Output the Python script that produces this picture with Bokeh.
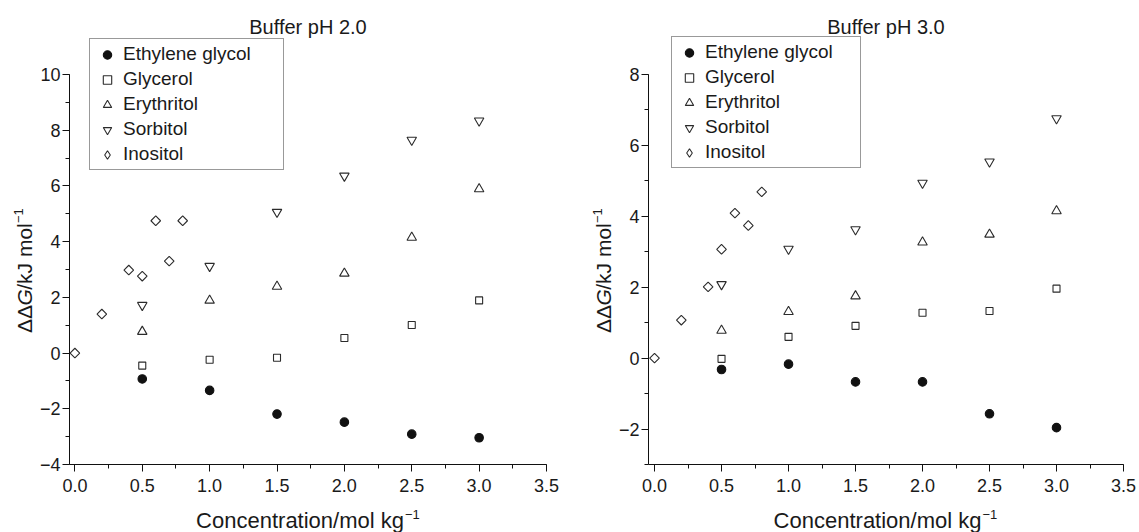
import math

from bokeh.embed import file_html
from bokeh.layouts import column, row
from bokeh.models import (CustomJSTickFormatter, Label, Legend, LegendItem,
                          Range1d, SingleIntervalTicker)
from bokeh.plotting import figure
from bokeh.resources import INLINE

# ---------------------------------------------------------------- data
series_names = ["Ethylene glycol", "Glycerol", "Erythritol", "Sorbitol", "Inositol"]

conc = [0.5, 1.0, 1.5, 2.0, 2.5, 3.0]                   # mol/kg
conc_inositol = [0.0, 0.2, 0.4, 0.5, 0.6, 0.7, 0.8]     # mol/kg

# Buffer pH 2.0, ddG in kJ/mol
ph2_ethylene_glycol = [-0.93, -1.34, -2.19, -2.48, -2.91, -3.04]
ph2_glycerol = [-0.45, -0.24, -0.17, 0.54, 1.01, 1.89]
ph2_erythritol = [0.77, 1.89, 2.39, 2.86, 4.15, 5.89]
ph2_sorbitol = [1.72, 3.12, 5.06, 6.36, 7.65, 8.34]
ph2_inositol = [0.0, 1.40, 2.98, 2.76, 4.75, 3.30, 4.75]

# Buffer pH 3.0, ddG in kJ/mol
ph3_ethylene_glycol = [-0.32, -0.17, -0.67, -0.67, -1.57, -1.96]
ph3_glycerol = [-0.02, 0.60, 0.91, 1.28, 1.33, 1.96]
ph3_erythritol = [0.78, 1.31, 1.75, 3.27, 3.49, 4.15]
ph3_sorbitol = [2.08, 3.08, 3.63, 4.94, 5.54, 6.76]
ph3_inositol = [0.0, 1.07, 2.01, 3.07, 4.09, 3.74, 4.69]

panel_titles = ["Buffer pH 2.0", "Buffer pH 3.0"]
x_label = "Concentration/mol kg"
y_label_parts = ["\u0394\u0394", "G", "/kJ mol"]
superscript = "\u22121"

# ---------------------------------------------------------------- style
FONT = "Liberation Sans"
INK = "#1a1a1a"
MARK = "#2b2b2b"
PAGE_H = 532
MAIN_H = 501                # plot figure height; the x-axis title strip sits below
FRAME_TOP, FRAME_BOTTOM = 5, 464
AXIS_TOP_PX = 74            # pixel row of the top y tick
DROP = 0.3                  # alphabetic labels land this many em below the anchor
MID = 0.35                  # em offset between a 'middle' anchor and the baseline
YLAB_SCALE = 0.932          # drawn height of the narrow title strip per canvas unit
YLAB_BOTTOM = 333           # pixel row where the rotated y title starts

marker_styles = {
    "Ethylene glycol": dict(marker="circle", size=8.5, fill_color="#111111", line_color="#111111", angle=0.0),
    "Glycerol": dict(marker="square", size=7, fill_color=None, line_color=MARK, angle=0.0),
    "Erythritol": dict(marker="triangle", size=9.5, fill_color=None, line_color=MARK, angle=0.0),
    "Sorbitol": dict(marker="inverted_triangle", size=9.5, fill_color=None, line_color=MARK, angle=0.0),
    "Inositol": dict(marker="square", size=6.8, fill_color=None, line_color=MARK, angle=math.pi / 4),
}

panels = [
    dict(title=panel_titles[0], fig_x=0, width=590, ylab_w=36, ylab_base=31,
         frame_left=67, frame_right=546, x0=-0.04, x1=3.5, ymin=-4, ytop=10,
         data=[ph2_ethylene_glycol, ph2_glycerol, ph2_erythritol, ph2_sorbitol, ph2_inositol],
         legend_loc=(20, 294), legend_w=156),
    dict(title=panel_titles[1], fig_x=590, width=549, ylab_w=25, ylab_base=610,
         frame_left=645, frame_right=1123, x0=-0.045, x1=3.5, ymin=-3, ytop=8,
         data=[ph3_ethylene_glycol, ph3_glycerol, ph3_erythritol, ph3_sorbitol, ph3_inositol],
         legend_loc=(23, 296), legend_w=151),
]


def blank_figure(width, height):
    """A bare canvas whose data units are pixels (origin bottom-left)."""
    f = figure(width=width, height=height, output_backend="svg",
               toolbar_location=None, tools="",
               x_range=Range1d(0, width), y_range=Range1d(0, height),
               x_axis_type=None, y_axis_type=None,
               min_border_left=0, min_border_right=0,
               min_border_top=0, min_border_bottom=0)
    f.outline_line_color = None
    f.xgrid.visible = False
    f.ygrid.visible = False
    f.background_fill_color = "white"
    f.border_fill_color = "white"
    return f


def to_data(cfg, px, py):
    """Absolute page pixel -> data coordinates of the plot panel."""
    fx = (px - cfg["frame_left"]) / (cfg["frame_right"] - cfg["frame_left"])
    fy = (py - FRAME_TOP) / (FRAME_BOTTOM - FRAME_TOP)
    return (cfg["x0"] + fx * (cfg["x1"] - cfg["x0"]),
            cfg["y1"] - fy * (cfg["y1"] - cfg["ymin"]))


def build_plot(cfg):
    per_unit = (cfg["ytop"] - cfg["ymin"]) / (FRAME_BOTTOM - AXIS_TOP_PX)
    cfg["y1"] = cfg["ytop"] + (AXIS_TOP_PX - FRAME_TOP) * per_unit
    plot_x = cfg["fig_x"] + cfg["ylab_w"]
    plot_w = cfg["width"] - cfg["ylab_w"]

    p = figure(width=plot_w, height=MAIN_H, output_backend="svg",
               toolbar_location=None, tools="",
               x_range=Range1d(cfg["x0"], cfg["x1"]),
               y_range=Range1d(cfg["ymin"], cfg["y1"]),
               min_border_left=cfg["frame_left"] - plot_x,
               min_border_right=plot_x + plot_w - cfg["frame_right"],
               min_border_top=FRAME_TOP, min_border_bottom=MAIN_H - FRAME_BOTTOM)
    p.outline_line_color = None
    p.xgrid.visible = False
    p.ygrid.visible = False
    p.background_fill_color = "white"
    p.border_fill_color = "white"

    p.xaxis.ticker = SingleIntervalTicker(interval=0.5, num_minor_ticks=2)
    p.yaxis.ticker = SingleIntervalTicker(interval=2, num_minor_ticks=2)
    p.yaxis.bounds = (cfg["ymin"], cfg["ytop"])
    p.xaxis.formatter = CustomJSTickFormatter(code="return tick.toFixed(1);")
    p.yaxis.formatter = CustomJSTickFormatter(
        code="const v = Math.round(tick); return v < 0 ? '\\u2212' + Math.abs(v) : String(v);")
    for ax in (p.xaxis, p.yaxis):
        ax.axis_line_color = "#111111"
        ax.axis_line_width = 1
        ax.major_tick_line_color = "#111111"
        ax.minor_tick_line_color = "#111111"
        ax.major_tick_out = 7
        ax.major_tick_in = 0
        ax.minor_tick_out = 4
        ax.minor_tick_in = 0
        ax.major_label_text_font = FONT
        ax.major_label_text_font_size = "18px"
        ax.major_label_text_color = INK
    p.xaxis.major_label_standoff = 7
    p.yaxis.major_label_standoff = 2

    items = []
    for name, values in zip(series_names, cfg["data"]):
        xs = conc_inositol if name == "Inositol" else conc
        st = marker_styles[name]
        r = p.scatter(xs, values, marker=st["marker"], size=st["size"],
                      fill_color=st["fill_color"], line_color=st["line_color"],
                      line_width=1.1, angle=st["angle"])
        if st["angle"]:
            # legend swatches ignore marker rotation, so show a diamond there
            r = p.scatter([float("nan")], [float("nan")], marker="diamond",
                          size=st["size"], fill_color=None,
                          line_color=st["line_color"], line_width=1.1)
        items.append(LegendItem(label=name, renderers=[r]))

    legend = Legend(items=items, location=cfg["legend_loc"],
                    label_text_font=FONT, label_text_font_size="19px",
                    label_text_color=INK, label_height=21, label_width=cfg["legend_w"],
                    label_standoff=3, glyph_width=26, glyph_height=21,
                    padding=4, spacing=3, margin=0,
                    border_line_color="#333333", border_line_width=1.2,
                    background_fill_color="white", background_fill_alpha=1.0)
    p.add_layout(legend)

    # panel title, inside the frame above the axis end
    cx = (cfg["frame_left"] + cfg["frame_right"]) / 2
    tx, ty = to_data(cfg, cx, 32 - DROP * 20)
    p.add_layout(Label(x=tx, y=ty, text=cfg["title"], text_align="center",
                       text_baseline="alphabetic", text_font=FONT,
                       text_font_size="20px", text_color=INK))
    return p


def build_ylabel(cfg):
    """Rotated y title; pieces are centred so rotation stays about their middle."""
    f = blank_figure(cfg["ylab_w"], MAIN_H)

    def row_to_y(py):
        return MAIN_H - py / YLAB_SCALE

    size = 21
    base_x = cfg["ylab_base"] - cfg["fig_x"]
    pos = YLAB_BOTTOM             # running pixel row, moving up the page
    for text, style, em in zip(y_label_parts, ["normal", "italic", "normal"],
                               [1.336, 0.778, 3.167]):
        w = em * size
        f.add_layout(Label(x=base_x - MID * size, y=row_to_y(pos - w / 2), text=text,
                           angle=math.pi / 2, text_align="center", text_baseline="middle",
                           text_font=FONT, text_font_style=style,
                           text_font_size=f"{size}px", text_color=INK))
        pos -= w
    sup = 13
    f.add_layout(Label(x=base_x - 8 - MID * sup, y=row_to_y(pos - 1 - 0.57 * sup),
                       text=superscript, angle=math.pi / 2, text_align="center",
                       text_baseline="middle", text_font=FONT,
                       text_font_size=f"{sup}px", text_color=INK))
    return f


def build_xlabel(cfg):
    h = PAGE_H - MAIN_H
    f = blank_figure(cfg["width"], h)
    cx = (cfg["frame_left"] + cfg["frame_right"]) / 2 - cfg["fig_x"]
    f.add_layout(Label(x=cx + 97, y=PAGE_H - 527 + DROP * 22, text=x_label,
                       text_align="right", text_baseline="alphabetic",
                       text_font=FONT, text_font_size="22px", text_color=INK))
    f.add_layout(Label(x=cx + 98, y=PAGE_H - 518 + DROP * 13, text=superscript,
                       text_align="left", text_baseline="alphabetic",
                       text_font=FONT, text_font_size="13px", text_color=INK))
    return f


blocks = []
for cfg in panels:
    main = build_plot(cfg)
    blocks.append(column(row(build_ylabel(cfg), main), build_xlabel(cfg)))

layout = row(*blocks)
open("out.html", "w").write(file_html(layout, INLINE))
